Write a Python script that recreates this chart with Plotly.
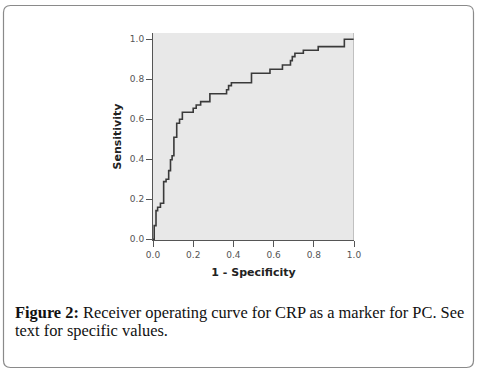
import plotly.graph_objects as go

# ROC curve vertices (1 - specificity, sensitivity)
fpr = [0.0, 0.006, 0.015, 0.023, 0.037, 0.053, 0.065, 0.078, 0.087, 0.095,
       0.104, 0.118, 0.132, 0.146, 0.200, 0.215, 0.237, 0.283, 0.366, 0.376,
       0.390, 0.490, 0.582, 0.644, 0.684, 0.693, 0.706, 0.748, 0.822, 0.952, 1.0]
tpr = [0.0, 0.068, 0.143, 0.160, 0.180, 0.288, 0.300, 0.343, 0.397, 0.417,
       0.510, 0.580, 0.600, 0.635, 0.655, 0.671, 0.688, 0.727, 0.747, 0.768,
       0.782, 0.830, 0.850, 0.871, 0.893, 0.913, 0.930, 0.945, 0.963, 1.000, 1.0]

tick_vals = [0.0, 0.2, 0.4, 0.6, 0.8, 1.0]
tick_text = ["0.0", "0.2", "0.4", "0.6", "0.8", "1.0"]

x_title = "1 - Specificity"
y_title = "Sensitivity"
caption_bold = "Figure 2:"
caption_line1 = " Receiver operating curve for CRP as a marker for PC. See"
caption_line2 = "text for specific values."

W, H = 478, 373
L, R, T, B = 153, 124, 33, 133
PW = W - L - R
PH = H - T - B


def px(x):
    return (x - L) / PW


def py(y):
    return (H - B - y) / PH


fig = go.Figure()
fig.add_trace(go.Scatter(
    x=fpr, y=tpr, mode="lines", line=dict(color="#3a3a3a", width=1.6, shape="hv"),
    hoverinfo="skip", showlegend=False))

# rounded frame around the whole figure
x0, x1, y0, y1, r = 3.5, 473.5, 5.5, 367.5, 7
rx, ry = r / PW, r / PH
X0, X1, Y0, Y1 = px(x0), px(x1), py(y0), py(y1)
path = (f"M {X0+rx},{Y0} L {X1-rx},{Y0} Q {X1},{Y0} {X1},{Y0-ry} "
        f"L {X1},{Y1+ry} Q {X1},{Y1} {X1-rx},{Y1} "
        f"L {X0+rx},{Y1} Q {X0},{Y1} {X0},{Y1+ry} "
        f"L {X0},{Y0-ry} Q {X0},{Y0} {X0+rx},{Y0} Z")

fig.update_layout(
    width=W, height=H,
    margin=dict(l=L, r=R, t=T, b=B, pad=0),
    paper_bgcolor="white",
    plot_bgcolor="#e8e8e8",
    showlegend=False,
    xaxis=dict(range=[0, 1.0], tickvals=tick_vals, ticktext=tick_text,
               showgrid=False, zeroline=False, showline=True, linecolor="#555",
               linewidth=1, ticks="outside", ticklen=6, tickcolor="#555",
               tickfont=dict(family="DejaVu Sans", size=9, color="#555"),
               title=dict(text=f"<b>{x_title}</b>", standoff=9,
                          font=dict(family="DejaVu Sans", size=11, color="#222"))),
    yaxis=dict(range=[-0.004, 1.031], tickvals=tick_vals, ticktext=tick_text,
               showgrid=False, zeroline=False, showline=True, linecolor="#555",
               linewidth=1, ticks="outside", ticklen=6, tickcolor="#555",
               tickfont=dict(family="DejaVu Sans", size=9, color="#555"),
               title=dict(text=f"<b>{y_title}</b>", standoff=6,
                          font=dict(family="DejaVu Sans", size=11, color="#222"))),
    shapes=[
        dict(type="line", xref="x", yref="paper", x0=1, x1=1, y0=0, y1=1,
             line=dict(color="#999", width=1)),
        dict(type="path", xref="paper", yref="paper", path=path,
             line=dict(color="#8a8a8a", width=1.2)),
    ],
    annotations=[
        dict(xref="paper", yref="paper", x=px(13), y=py(312), xanchor="left",
             yanchor="middle", showarrow=False, align="left",
             text=f"<b>{caption_bold}</b>{caption_line1}",
             font=dict(family="Liberation Serif", size=16.4, color="#111")),
        dict(xref="paper", yref="paper", x=px(13), y=py(330), xanchor="left",
             yanchor="middle", showarrow=False, align="left",
             text=caption_line2,
             font=dict(family="Liberation Serif", size=16.4, color="#111")),
    ],
)

fig.write_html(
    "out.html",
    config={"displayModeBar": False, "staticPlot": True},
    post_script="document.body.style.margin='0';document.body.style.overflow='hidden';",
)
